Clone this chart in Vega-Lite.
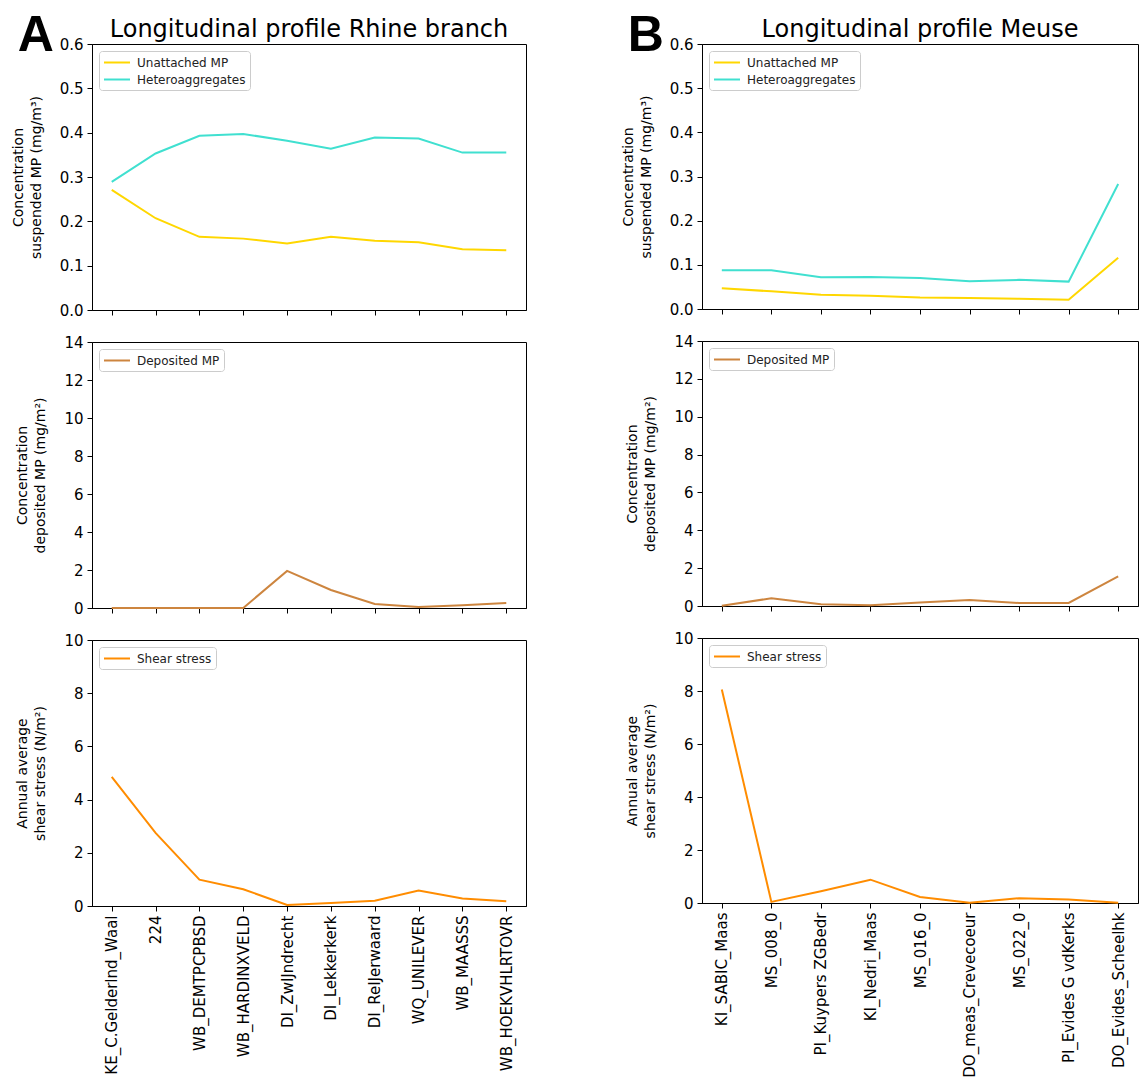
{
  "$schema": "https://vega.github.io/schema/vega-lite/v6.json",
  "padding": {"left": 10, "top": 10, "right": 0, "bottom": 0},
  "background": "white",
  "datasets": {
    "rhine": [
      {"station": "KE_C.Gelderlnd_Waal", "series": "Unattached MP", "value": 0.271},
      {"station": "224", "series": "Unattached MP", "value": 0.207},
      {"station": "WB_DEMTPCPBSD", "series": "Unattached MP", "value": 0.165},
      {"station": "WB_HARDINXVELD", "series": "Unattached MP", "value": 0.161},
      {"station": "DI_ZwIJndrecht", "series": "Unattached MP", "value": 0.150},
      {"station": "DI_Lekkerkerk", "series": "Unattached MP", "value": 0.165},
      {"station": "DI_ReIJerwaard", "series": "Unattached MP", "value": 0.156},
      {"station": "WQ_UNILEVER", "series": "Unattached MP", "value": 0.153},
      {"station": "WB_MAASSS", "series": "Unattached MP", "value": 0.137},
      {"station": "WB_HOEKVHLRTOVR", "series": "Unattached MP", "value": 0.135},
      {"station": "KE_C.Gelderlnd_Waal", "series": "Heteroaggregates", "value": 0.289},
      {"station": "224", "series": "Heteroaggregates", "value": 0.353},
      {"station": "WB_DEMTPCPBSD", "series": "Heteroaggregates", "value": 0.393},
      {"station": "WB_HARDINXVELD", "series": "Heteroaggregates", "value": 0.397},
      {"station": "DI_ZwIJndrecht", "series": "Heteroaggregates", "value": 0.382},
      {"station": "DI_Lekkerkerk", "series": "Heteroaggregates", "value": 0.364},
      {"station": "DI_ReIJerwaard", "series": "Heteroaggregates", "value": 0.389},
      {"station": "WQ_UNILEVER", "series": "Heteroaggregates", "value": 0.387},
      {"station": "WB_MAASSS", "series": "Heteroaggregates", "value": 0.355},
      {"station": "WB_HOEKVHLRTOVR", "series": "Heteroaggregates", "value": 0.355},
      {"station": "KE_C.Gelderlnd_Waal", "series": "Deposited MP", "value": 0.0},
      {"station": "224", "series": "Deposited MP", "value": 0.0},
      {"station": "WB_DEMTPCPBSD", "series": "Deposited MP", "value": 0.0},
      {"station": "WB_HARDINXVELD", "series": "Deposited MP", "value": 0.0},
      {"station": "DI_ZwIJndrecht", "series": "Deposited MP", "value": 1.95},
      {"station": "DI_Lekkerkerk", "series": "Deposited MP", "value": 0.95},
      {"station": "DI_ReIJerwaard", "series": "Deposited MP", "value": 0.21},
      {"station": "WQ_UNILEVER", "series": "Deposited MP", "value": 0.05},
      {"station": "WB_MAASSS", "series": "Deposited MP", "value": 0.14},
      {"station": "WB_HOEKVHLRTOVR", "series": "Deposited MP", "value": 0.26},
      {"station": "KE_C.Gelderlnd_Waal", "series": "Shear stress", "value": 4.85},
      {"station": "224", "series": "Shear stress", "value": 2.75},
      {"station": "WB_DEMTPCPBSD", "series": "Shear stress", "value": 0.99},
      {"station": "WB_HARDINXVELD", "series": "Shear stress", "value": 0.63},
      {"station": "DI_ZwIJndrecht", "series": "Shear stress", "value": 0.04},
      {"station": "DI_Lekkerkerk", "series": "Shear stress", "value": 0.11},
      {"station": "DI_ReIJerwaard", "series": "Shear stress", "value": 0.2},
      {"station": "WQ_UNILEVER", "series": "Shear stress", "value": 0.58},
      {"station": "WB_MAASSS", "series": "Shear stress", "value": 0.28},
      {"station": "WB_HOEKVHLRTOVR", "series": "Shear stress", "value": 0.18}
    ],
    "meuse": [
      {"station": "KI_SABIC_Maas", "series": "Unattached MP", "value": 0.047},
      {"station": "MS_008_0", "series": "Unattached MP", "value": 0.040},
      {"station": "PI_Kuypers ZGBedr", "series": "Unattached MP", "value": 0.032},
      {"station": "KI_Nedri_Maas", "series": "Unattached MP", "value": 0.030},
      {"station": "MS_016_0", "series": "Unattached MP", "value": 0.026},
      {"station": "DO_meas_Crevecoeur", "series": "Unattached MP", "value": 0.025},
      {"station": "MS_022_0", "series": "Unattached MP", "value": 0.023},
      {"station": "PI_Evides G vdKerks", "series": "Unattached MP", "value": 0.021},
      {"station": "DO_Evides_Scheelhk", "series": "Unattached MP", "value": 0.116},
      {"station": "KI_SABIC_Maas", "series": "Heteroaggregates", "value": 0.088},
      {"station": "MS_008_0", "series": "Heteroaggregates", "value": 0.0875},
      {"station": "PI_Kuypers ZGBedr", "series": "Heteroaggregates", "value": 0.072},
      {"station": "KI_Nedri_Maas", "series": "Heteroaggregates", "value": 0.0725},
      {"station": "MS_016_0", "series": "Heteroaggregates", "value": 0.070},
      {"station": "DO_meas_Crevecoeur", "series": "Heteroaggregates", "value": 0.063},
      {"station": "MS_022_0", "series": "Heteroaggregates", "value": 0.066},
      {"station": "PI_Evides G vdKerks", "series": "Heteroaggregates", "value": 0.062},
      {"station": "DO_Evides_Scheelhk", "series": "Heteroaggregates", "value": 0.283},
      {"station": "KI_SABIC_Maas", "series": "Deposited MP", "value": 0.01},
      {"station": "MS_008_0", "series": "Deposited MP", "value": 0.41},
      {"station": "PI_Kuypers ZGBedr", "series": "Deposited MP", "value": 0.09},
      {"station": "KI_Nedri_Maas", "series": "Deposited MP", "value": 0.04},
      {"station": "MS_016_0", "series": "Deposited MP", "value": 0.18},
      {"station": "DO_meas_Crevecoeur", "series": "Deposited MP", "value": 0.32},
      {"station": "MS_022_0", "series": "Deposited MP", "value": 0.16},
      {"station": "PI_Evides G vdKerks", "series": "Deposited MP", "value": 0.16},
      {"station": "DO_Evides_Scheelhk", "series": "Deposited MP", "value": 1.57},
      {"station": "KI_SABIC_Maas", "series": "Shear stress", "value": 8.06},
      {"station": "MS_008_0", "series": "Shear stress", "value": 0.04},
      {"station": "PI_Kuypers ZGBedr", "series": "Shear stress", "value": 0.44},
      {"station": "KI_Nedri_Maas", "series": "Shear stress", "value": 0.88},
      {"station": "MS_016_0", "series": "Shear stress", "value": 0.23},
      {"station": "DO_meas_Crevecoeur", "series": "Shear stress", "value": 0.01},
      {"station": "MS_022_0", "series": "Shear stress", "value": 0.18},
      {"station": "PI_Evides G vdKerks", "series": "Shear stress", "value": 0.13},
      {"station": "DO_Evides_Scheelhk", "series": "Shear stress", "value": 0.01}
    ]
  },
  "spacing": 93,
  "resolve": {"scale": {"color": "independent", "x": "independent", "y": "independent"}, "legend": {"color": "independent"}},
  "hconcat": [
    {
      "title": {"text": "A", "anchor": "start", "frame": "bounds", "font": "Liberation Sans", "fontSize": 50, "fontWeight": "bold", "color": "black", "dx": 7, "dy": 47},
      "spacing": 15,
      "resolve": {"scale": {"color": "independent", "x": "independent", "y": "independent"}, "legend": {"color": "independent"}},
      "vconcat": [
        {
          "title": {"text": "Longitudinal profile Rhine branch", "frame": "group", "anchor": "middle", "fontSize": 24, "fontWeight": "normal", "color": "black", "offset": -5},
          "width": 434, "height": 266,
          "data": {"name": "rhine"},
          "transform": [{"filter": {"field": "series", "oneOf": ["Unattached MP", "Heteroaggregates"]}}],
          "mark": {"type": "line", "strokeWidth": 2},
          "encoding": {
            "x": {"field": "station", "type": "nominal", "sort": null, "scale": {"type": "point", "padding": 0.45}, "axis": {"labels": false, "title": null}},
            "y": {"field": "value", "type": "quantitative", "scale": {"domain": [0, 0.6], "nice": false}, "axis": {"values": [0, 0.1, 0.2, 0.3, 0.4, 0.5, 0.6], "format": ".1f", "title": ["Concentration", "suspended MP (mg/m³)"]}},
            "color": {"field": "series", "type": "nominal", "sort": null, "scale": {"domain": ["Unattached MP", "Heteroaggregates"], "range": ["#FFD700", "#40E0D0"]}, "legend": {"title": null}}
          }
        },
        {
          "width": 434, "height": 266,
          "data": {"name": "rhine"},
          "transform": [{"filter": {"field": "series", "equal": "Deposited MP"}}],
          "mark": {"type": "line", "strokeWidth": 2},
          "encoding": {
            "x": {"field": "station", "type": "nominal", "sort": null, "scale": {"type": "point", "padding": 0.45}, "axis": {"labels": false, "title": null}},
            "y": {"field": "value", "type": "quantitative", "scale": {"domain": [0, 14], "nice": false}, "axis": {"values": [0, 2, 4, 6, 8, 10, 12, 14], "title": ["Concentration", "deposited MP (mg/m²)"]}},
            "color": {"field": "series", "type": "nominal", "scale": {"domain": ["Deposited MP"], "range": ["#CD853F"]}, "legend": {"title": null}}
          }
        },
        {
          "width": 434, "height": 266,
          "data": {"name": "rhine"},
          "transform": [{"filter": {"field": "series", "equal": "Shear stress"}}],
          "mark": {"type": "line", "strokeWidth": 2},
          "encoding": {
            "x": {"field": "station", "type": "nominal", "sort": null, "scale": {"type": "point", "padding": 0.45}, "axis": {"labelAngle": -90, "title": null, "labelLimit": 400}},
            "y": {"field": "value", "type": "quantitative", "scale": {"domain": [0, 10], "nice": false}, "axis": {"values": [0, 2, 4, 6, 8, 10], "title": ["Annual average", "shear stress (N/m²)"]}},
            "color": {"field": "series", "type": "nominal", "scale": {"domain": ["Shear stress"], "range": ["#FF8C00"]}, "legend": {"title": null}}
          }
        }
      ]
    },
    {
      "title": {"text": "B", "anchor": "start", "frame": "bounds", "font": "Liberation Sans", "fontSize": 50, "fontWeight": "bold", "color": "black", "dx": 7, "dy": 47},
      "spacing": 15,
      "resolve": {"scale": {"color": "independent", "x": "independent", "y": "independent"}, "legend": {"color": "independent"}},
      "vconcat": [
        {
          "title": {"text": "Longitudinal profile Meuse", "frame": "group", "anchor": "middle", "fontSize": 24, "fontWeight": "normal", "color": "black", "offset": -5},
          "width": 436, "height": 265,
          "data": {"name": "meuse"},
          "transform": [{"filter": {"field": "series", "oneOf": ["Unattached MP", "Heteroaggregates"]}}],
          "mark": {"type": "line", "strokeWidth": 2},
          "encoding": {
            "x": {"field": "station", "type": "nominal", "sort": null, "scale": {"type": "point", "padding": 0.4}, "axis": {"labels": false, "title": null}},
            "y": {"field": "value", "type": "quantitative", "scale": {"domain": [0, 0.6], "nice": false}, "axis": {"values": [0, 0.1, 0.2, 0.3, 0.4, 0.5, 0.6], "format": ".1f", "title": ["Concentration", "suspended MP (mg/m³)"]}},
            "color": {"field": "series", "type": "nominal", "sort": null, "scale": {"domain": ["Unattached MP", "Heteroaggregates"], "range": ["#FFD700", "#40E0D0"]}, "legend": {"title": null}}
          }
        },
        {
          "width": 436, "height": 265,
          "data": {"name": "meuse"},
          "transform": [{"filter": {"field": "series", "equal": "Deposited MP"}}],
          "mark": {"type": "line", "strokeWidth": 2},
          "encoding": {
            "x": {"field": "station", "type": "nominal", "sort": null, "scale": {"type": "point", "padding": 0.4}, "axis": {"labels": false, "title": null}},
            "y": {"field": "value", "type": "quantitative", "scale": {"domain": [0, 14], "nice": false}, "axis": {"values": [0, 2, 4, 6, 8, 10, 12, 14], "title": ["Concentration", "deposited MP (mg/m²)"]}},
            "color": {"field": "series", "type": "nominal", "scale": {"domain": ["Deposited MP"], "range": ["#CD853F"]}, "legend": {"title": null}}
          }
        },
        {
          "width": 436, "height": 265,
          "data": {"name": "meuse"},
          "transform": [{"filter": {"field": "series", "equal": "Shear stress"}}],
          "mark": {"type": "line", "strokeWidth": 2},
          "encoding": {
            "x": {"field": "station", "type": "nominal", "sort": null, "scale": {"type": "point", "padding": 0.4}, "axis": {"labelAngle": -90, "title": null, "labelLimit": 400}},
            "y": {"field": "value", "type": "quantitative", "scale": {"domain": [0, 10], "nice": false}, "axis": {"values": [0, 2, 4, 6, 8, 10], "title": ["Annual average", "shear stress (N/m²)"]}},
            "color": {"field": "series", "type": "nominal", "scale": {"domain": ["Shear stress"], "range": ["#FF8C00"]}, "legend": {"title": null}}
          }
        }
      ]
    }
  ],
  "config": {
    "font": "DejaVu Sans",
    "view": {"stroke": "black", "strokeWidth": 1},
    "axis": {
      "grid": false,
      "domainColor": "black",
      "tickColor": "black",
      "tickSize": 5,
      "labelFontSize": 15,
      "labelColor": "black",
      "labelPadding": 4,
      "titleFontSize": 14,
      "titleFontWeight": "normal",
      "titleColor": "black",
      "titleLineHeight": 18,
      "titlePadding": 16
    },
    "legend": {
      "orient": "top-left",
      "offset": 7,
      "padding": 4,
      "strokeColor": "#cccccc",
      "fillColor": "white",
      "cornerRadius": 3,
      "labelFontSize": 12,
      "labelColor": "#222222",
      "symbolType": "M-1,0H3",
      "symbolSize": 169,
      "symbolStrokeWidth": 2,
      "labelOffset": 19,
      "rowPadding": 3
    }
  }
}
